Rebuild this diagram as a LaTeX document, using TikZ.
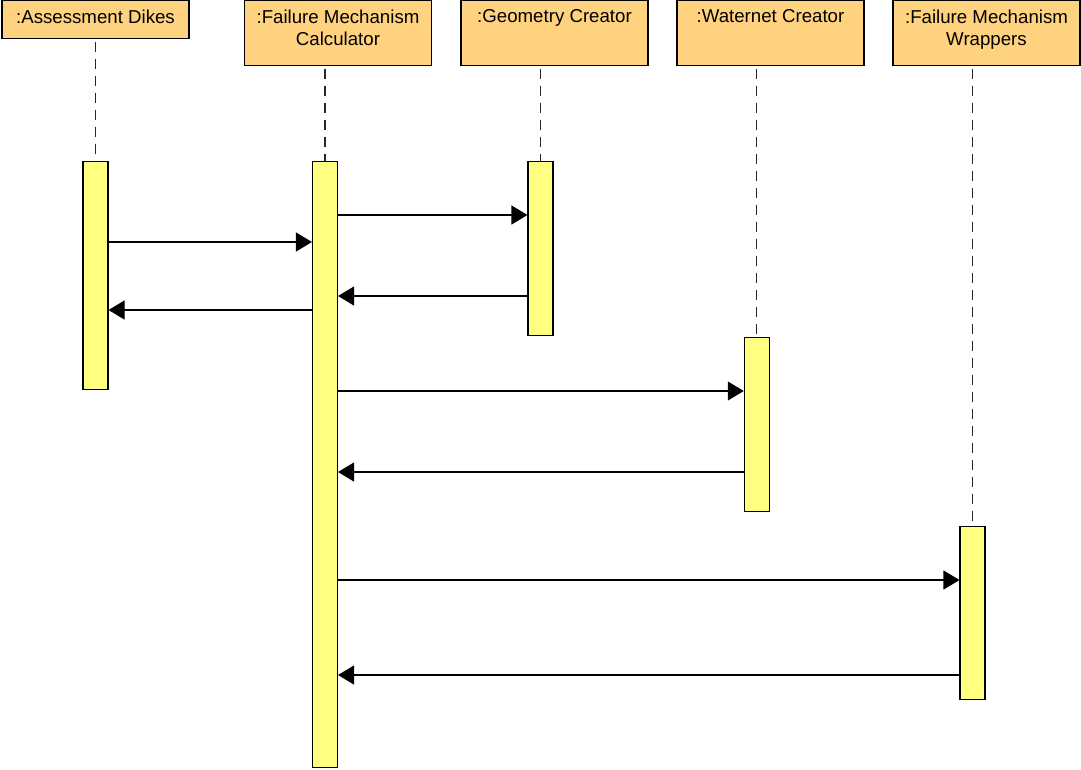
\documentclass[tikz,border=0pt]{standalone}
\usepackage{fontspec}
\setmainfont{Liberation Sans}
\usepackage{xcolor}
\usetikzlibrary{arrows.meta}
\definecolor{headfill}{HTML}{FFD280}
\definecolor{actfill}{HTML}{FFFF80}
\tikzstyle{every picture}=[-{Triangle[length=12pt,width=14.25pt]}]
\tikzstyle{head}=[draw=black,fill=headfill,line width=0.8pt,minimum width=140.25pt,anchor=north,inner sep=0pt]
\tikzstyle{headtxt}=[anchor=north,align=center,inner sep=7pt,font=\fontsize{14}{16.3}\selectfont]
\tikzstyle{act}=[draw=black,fill=actfill,line width=0.8pt,minimum width=18.75pt,anchor=north,inner sep=0pt]
\tikzstyle{life}=[-,draw=black!85,line width=1pt,dash pattern=on 7.5pt off 5.25pt,dash phase=-2pt]

\begin{document}
\begin{tikzpicture}[x=0.75pt,y=-0.75pt,line width=0.8pt]
    \useasboundingbox (0,0) rectangle (1081,769);

    % Object heads
    \node[head,minimum height=28.5pt] (ad) at (95.5,0) {};
    \node[headtxt] (adt) at (ad.north) {:Assessment Dikes};
    \node[head,minimum height=48.75pt] (fmc) at (338,0) {};
    \node[headtxt] (fmct) at (fmc.north) {:Failure Mechanism\\Calculator};
    \node[head,minimum height=48.75pt] (gc) at (554.5,0) {};
    \node[headtxt] (gct) at (gc.north) {:Geometry Creator};
    \node[head,minimum height=48.75pt] (wc) at (770.5,0) {};
    \node[headtxt] (wct) at (wc.north) {:Waternet Creator};
    \node[head,minimum height=48.75pt] (fmw) at (986.5,0) {};
    \node[headtxt] (fmwt) at (fmw.north) {:Failure Mechanism\\Wrappers};

    % Activation bars
    \node[act,minimum height=171pt] (adact) at (95.5,161) {};
    \node[act,minimum height=454.5pt] (fmcact) at (325,161) {};
    \node[act,minimum height=130.5pt] (gcact) at (540.5,161) {};
    \node[act,minimum height=130.5pt] (wcact) at (756.8,337) {};
    \node[act,minimum height=129.75pt] (fmwact) at (972.5,526) {};

    % Lifelines
    \draw[life] (adact.north |- ad.south) -- (adact.north);
    \draw[life] (fmcact.north |- fmc.south) -- (fmcact.north);
    \draw[life] (gcact.north |- gc.south) -- (gcact.north);
    \draw[life] (wcact.north |- wc.south) -- (wcact.north);
    \draw[life] (fmwact.north |- fmw.south) -- (fmwact.north);

    % Messages
    \draw (fmcact.east |- 0,215) -- (gcact.west |- 0,215);
    \draw (adact.east |- 0,242) -- (fmcact.west |- 0,242);
    \draw (gcact.west |- 0,296) -- (fmcact.east |- 0,296);
    \draw (fmcact.west |- 0,310) -- (adact.east |- 0,310);
    \draw (fmcact.east |- 0,391) -- (wcact.west |- 0,391);
    \draw (wcact.west |- 0,472) -- (fmcact.east |- 0,472);
    \draw (fmcact.east |- 0,580) -- (fmwact.west |- 0,580);
    \draw (fmwact.west |- 0,675) -- (fmcact.east |- 0,675);

\end{tikzpicture}
\end{document}
